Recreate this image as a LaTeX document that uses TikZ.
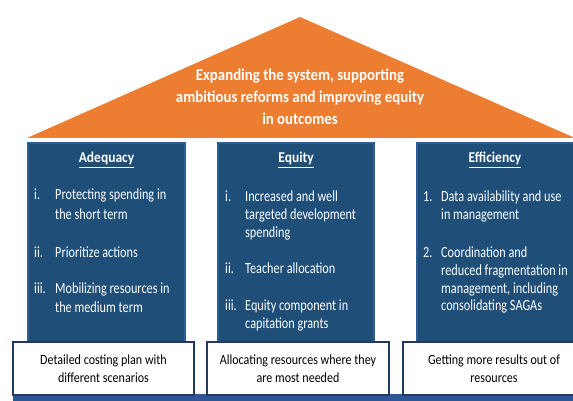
\documentclass[tikz,border=0pt]{standalone}
\usepackage{fontspec}
\setmainfont[FakeStretch=0.79]{Carlito}
\newfontfamily\wideCarlito[FakeStretch=0.9]{Carlito}
\newfontfamily\baseCarlito[FakeStretch=0.86]{Carlito}
\definecolor{orangeroof}{HTML}{ED7D31}
\definecolor{pillarblue}{HTML}{1F4E79}
\definecolor{pillaredge}{HTML}{2E5D94}
\definecolor{navyedge}{HTML}{203864}
\definecolor{barblue}{HTML}{2F5597}
\tikzset{
  pillar/.style={fill=pillarblue, draw=pillaredge, line width=1.5pt},
  basebox/.style={fill=white, draw=navyedge, line width=1.8pt},
  roofline/.style={text=white, font=\wideCarlito\fontsize{16.5}{20}\selectfont\bfseries, anchor=base, inner sep=0pt},
  headline/.style={text=white, font=\wideCarlito\fontsize{15}{18}\selectfont\bfseries, anchor=base, inner sep=0pt},
  itemline/.style={text=white, font=\fontsize{15.5}{18}\selectfont, anchor=base west, inner sep=0pt},
  baseline/.style={text=black, font=\baseCarlito\fontsize{14}{17}\selectfont, anchor=base, inner sep=0pt}
}
\begin{document}
\begin{tikzpicture}[x=1pt, y=-1pt]
\clip (0,0) rectangle (573,401);
\fill[white] (0,0) rectangle (573,401);
% roof
\fill[orangeroof] (27,138) -- (300,17) -- (575,138) -- cycle;
\node[roofline] (r1) at (300,81) {Expanding the system, supporting};
\node[roofline] (r2) at (300,103) {ambitious reforms and improving equity};
\node[roofline] (r3) at (300,125) {in outcomes};
% pillars
\draw[pillar] (28,143) rectangle (185,352);
\draw[pillar] (218,143) rectangle (374,352);
\draw[pillar] (417,143) rectangle (585,352);
% bottom bar
\fill[barblue] (13,394) rectangle (575,401);
% base boxes
\draw[basebox] (13,342) rectangle (194,395);
\draw[basebox] (207,342) rectangle (389,395);
\draw[basebox] (403,342) rectangle (590,395);
% headings
\node[headline] (h1) at (106.5,163) {\underline{Adequacy}};
\node[headline] (h2) at (296,163) {\underline{Equity}};
\node[headline] (h3) at (495,163) {\underline{Efficiency}};
% left column
\node[itemline] (a1n) at (34,200) {i.};
\node[itemline] (a1a) at (55,200) {Protecting spending in};
\node[itemline] (a1b) at (55,219) {the short term};
\node[itemline] (a2n) at (34,257) {ii.};
\node[itemline] (a2a) at (55,257) {Prioritize actions};
\node[itemline] (a3n) at (34,293) {iii.};
\node[itemline] (a3a) at (55,293) {Mobilizing resources in};
\node[itemline] (a3b) at (55,312) {the medium term};
% middle column
\node[itemline] (e1n) at (225,201) {i.};
\node[itemline] (e1a) at (245,201) {Increased and well};
\node[itemline] (e1b) at (245,219) {targeted development};
\node[itemline] (e1c) at (245,237) {spending};
\node[itemline] (e2n) at (225,273) {ii.};
\node[itemline] (e2a) at (245,273) {Teacher allocation};
\node[itemline] (e3n) at (225,310) {iii.};
\node[itemline] (e3a) at (245,310) {Equity component in};
\node[itemline] (e3b) at (245,328) {capitation grants};
% right column
\node[itemline] (f1n) at (423,201) {1.};
\node[itemline] (f1a) at (441,201) {Data availability and use};
\node[itemline] (f1b) at (441,219) {in management};
\node[itemline] (f2n) at (423,257) {2.};
\node[itemline] (f2a) at (441,257) {Coordination and};
\node[itemline] (f2b) at (441,275) {reduced fragmentation in};
\node[itemline] (f2c) at (441,293) {management, including};
\node[itemline] (f2d) at (441,310) {consolidating SAGAs};
% base texts
\node[baseline] (b1a) at (103.5,364) {Detailed costing plan with};
\node[baseline] (b1b) at (103.5,382) {different scenarios};
\node[baseline] (b2a) at (298,364) {Allocating resources where they};
\node[baseline] (b2b) at (298,382) {are most needed};
\node[baseline] (b3a) at (494,364) {Getting more results out of};
\node[baseline] (b3b) at (494,382) {resources};
\end{tikzpicture}
\end{document}
